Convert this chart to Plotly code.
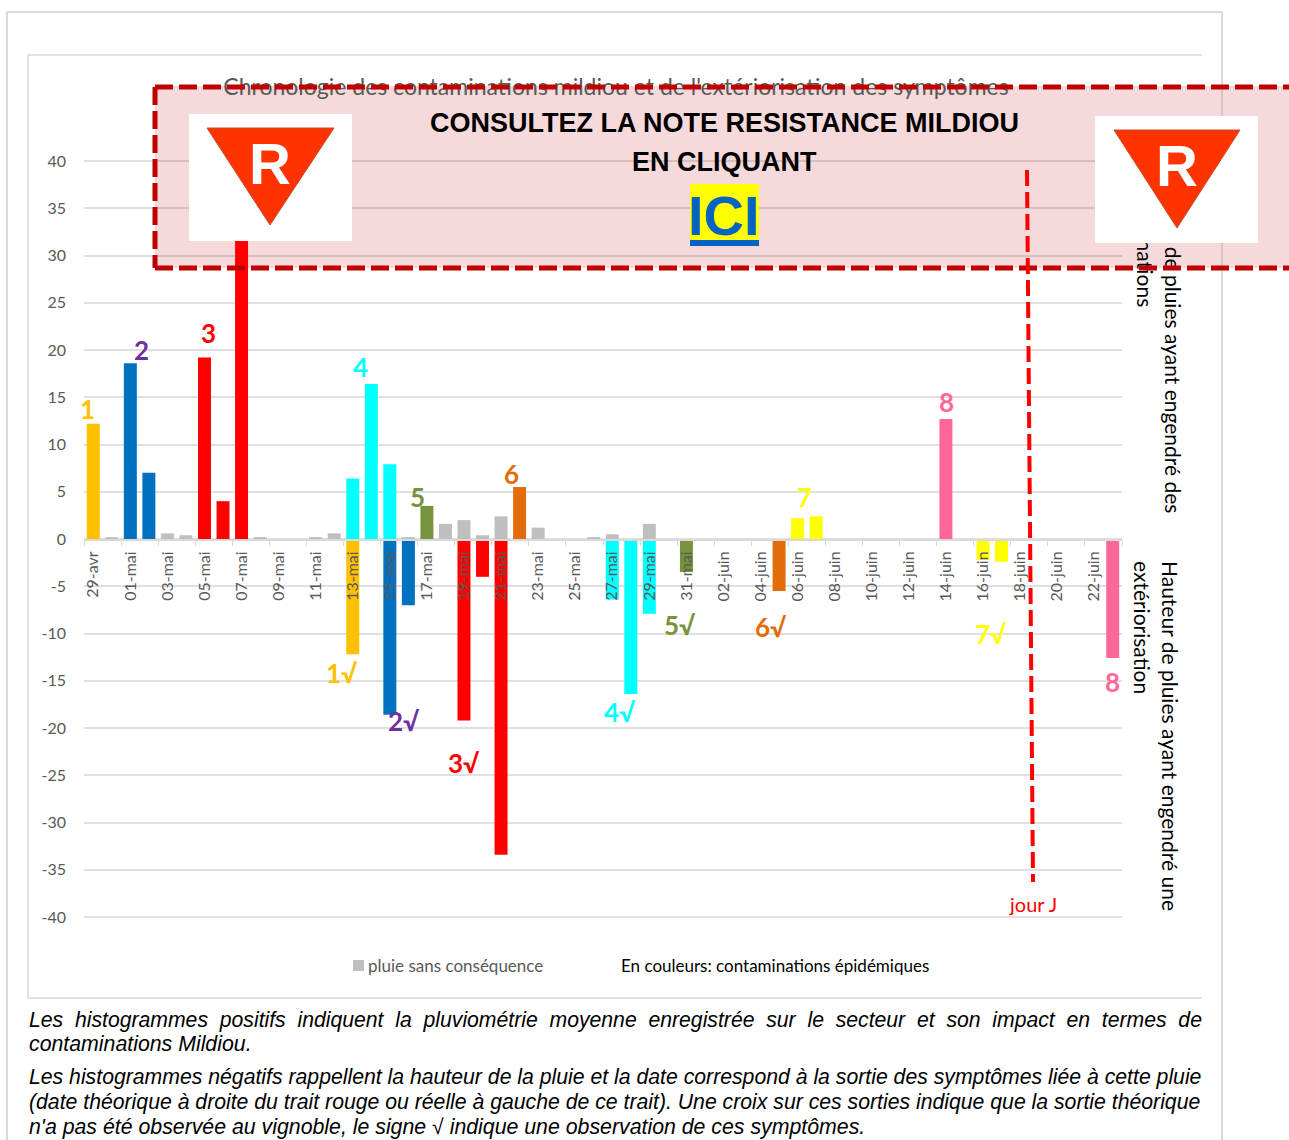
import plotly.graph_objects as go

W, H = 1289, 1140
GREY, GOLD, BLUE, RED, CYAN, GREEN, ORANGE, YELLOW, PINK = (
    "#BFBFBF", "#FFC000", "#0070C0", "#FF0000", "#00FFFF", "#77933C", "#E36C0A", "#FFFF00", "#FF6699")
PURPLE = "#7030A0"
TXT = "#595959"

dates = ["29-avr", "30-avr"] + [f"{d:02d}-mai" for d in range(1, 32)] + [f"{d:02d}-juin" for d in range(1, 24)]

# rain heights (mm) per group, date -> value
grey_dates = ["30-avr", "03-mai", "04-mai", "08-mai", "11-mai", "12-mai", "16-mai", "18-mai", "19-mai",
              "20-mai", "21-mai", "23-mai", "26-mai", "27-mai", "29-mai"]
grey_vals = [0.2, 0.6, 0.4, 0.2, 0.2, 0.6, 0.2, 1.6, 2.0, 0.4, 2.4, 1.2, 0.2, 0.5, 1.6]
gold_dates = ["29-avr", "13-mai"]
gold_vals = [12.2, -12.2]
blue_dates = ["01-mai", "02-mai", "15-mai", "16-mai"]
blue_vals = [18.6, 7.0, -18.6, -7.0]
red_dates = ["05-mai", "06-mai", "07-mai", "19-mai", "20-mai", "21-mai"]
red_vals = [19.2, 4.0, 33.4, -19.2, -4.0, -33.4]
cyan_dates = ["13-mai", "14-mai", "15-mai", "27-mai", "28-mai", "29-mai"]
cyan_vals = [6.4, 16.4, 7.9, -6.4, -16.4, -7.9]
green_dates = ["17-mai", "31-mai"]
green_vals = [3.5, -3.5]
orange_dates = ["22-mai", "05-juin"]
orange_vals = [5.5, -5.5]
yellow_dates = ["06-juin", "07-juin", "16-juin", "17-juin"]
yellow_vals = [2.2, 2.4, -2.2, -2.4]
pink_dates = ["14-juin", "23-juin"]
pink_vals = [12.7, -12.6]

label_texts = ["1", "2", "3", "4", "5", "6", "7", "8", "1√", "2√", "3√", "4√", "5√", "6√", "7√", "8"]
label_colors = [GOLD, PURPLE, RED, CYAN, GREEN, ORANGE, YELLOW, PINK, GOLD, PURPLE, RED, CYAN, GREEN, ORANGE, YELLOW, PINK]

title_text = "Chronologie des contaminations mildiou et de l'extériorisation des symptômes"
legend_text = "pluie sans conséquence"
note_text = "En couleurs: contaminations épidémiques"
banner_lines = ["CONSULTEZ LA NOTE RESISTANCE MILDIOU", "EN CLIQUANT"]
footer_lines = [
    "Les\u00a0\u00a0histogrammes\u00a0\u00a0positifs\u00a0\u00a0indiquent\u00a0\u00a0la\u00a0\u00a0pluviométrie\u00a0\u00a0moyenne\u00a0\u00a0enregistrée\u00a0\u00a0sur\u00a0\u00a0le\u00a0\u00a0secteur\u00a0\u00a0et\u00a0\u00a0son\u00a0\u00a0impact\u00a0\u00a0en\u00a0\u00a0termes\u00a0\u00a0de",
    "contaminations Mildiou.",
    "Les histogrammes négatifs rappellent la hauteur de la pluie et la date correspond à la sortie des symptômes liée à cette pluie",
    "(date théorique à droite du trait rouge ou réelle à gauche de ce trait). Une croix sur ces sorties indique que la sortie théorique",
    "n'a pas été observée au vignoble, le signe √ indique une observation de ces symptômes.",
]
yticks = list(range(-40, 41, 5))
yticktext = [str(v) for v in yticks]


def px(x):
    return x / W


def py(y):
    return 1 - y / H


fig = go.Figure()
for name, xs, ys, col in [
    ("pluie sans conséquence", grey_dates, grey_vals, GREY),
    ("1", gold_dates, gold_vals, GOLD),
    ("2", blue_dates, blue_vals, BLUE),
    ("3", red_dates, red_vals, RED),
    ("4", cyan_dates, cyan_vals, CYAN),
    ("5", green_dates, green_vals, GREEN),
    ("6", orange_dates, orange_vals, ORANGE),
    ("7", yellow_dates, yellow_vals, YELLOW),
    ("8", pink_dates, pink_vals, PINK),
]:
    fig.add_bar(x=xs, y=ys, name=name, marker=dict(color=col, line_width=0), width=0.7, showlegend=False)

# pixel-coordinate overlay: text here stays underneath the banner shapes
fig.add_scatter(x=[616], y=[89], mode="text", text=[title_text], textposition="middle center",
                textfont=dict(family="Lato", size=23, color=TXT), xaxis="x2", yaxis="y2",
                showlegend=False, hoverinfo="skip")
fig.add_scatter(x=[1171], y=[165], mode="none", xaxis="x3", yaxis="y2", showlegend=False, hoverinfo="skip")

fig.update_layout(
    width=W, height=H, autosize=False, margin=dict(l=0, r=0, t=0, b=0, autoexpand=False),
    paper_bgcolor="white", plot_bgcolor="rgba(0,0,0,0)", barmode="overlay", showlegend=False,
    font=dict(family="Lato", color=TXT),
    xaxis=dict(type="category", categoryorder="array", categoryarray=dates, range=[-0.5, 55.5],
               domain=[px(84), px(1122)], anchor="free", position=py(540), tickmode="linear", tick0=0, dtick=2,
               tickson="boundaries", ticks="outside", ticklen=5, tickcolor="#D9D9D9", showline=True,
               linecolor="#D9D9D9", linewidth=2, showgrid=False, zeroline=False, tickangle=-90,
               tickfont=dict(family="Lato", size=16, color=TXT), ticklabelstandoff=4),
    # range runs one unit past the +/-40 grid lines so that plotly keeps them (it drops grid lines on the plot edge)
    yaxis=dict(range=[-41, 41], domain=[py(926.45), py(151.55)], anchor="free", position=px(84), tickmode="array",
               tickvals=yticks, ticktext=yticktext,
               showgrid=True, gridcolor="rgba(0,0,0,0.12)", gridwidth=2, zeroline=False, showline=False,
               ticks="", tickfont=dict(family="Lato", size=16, color=TXT), ticklabelstandoff=18),
    xaxis2=dict(domain=[0, 1], range=[0, W], anchor="free", position=py(165), side="bottom",
                tickvals=[1172, 1144], ticktext=["Hauteur de pluies ayant engendré des", "contaminations"],
                tickangle=90, ticks="", showgrid=False, zeroline=False, showline=False,
                tickfont=dict(family="Lato", size=21, color="#000000")),
    xaxis3=dict(domain=[0, 1], range=[0, W], anchor="free", position=py(560), side="bottom",
                tickvals=[1169, 1141], ticktext=["Hauteur de pluies ayant engendré une", "extériorisation"],
                tickangle=90, ticks="", showgrid=False, zeroline=False, showline=False,
                tickfont=dict(family="Lato", size=21, color="#000000")),
    yaxis2=dict(domain=[0, 1], range=[H, 0], anchor="free", position=0, visible=False),
)

shapes = []


def rect(x0, y0, x1, y1, fill=None, line=None, lw=0, layer="above", dash=None):
    shapes.append(dict(type="rect", xref="paper", yref="paper", x0=px(x0), x1=px(x1), y0=py(y0), y1=py(y1),
                       fillcolor=fill or "rgba(0,0,0,0)", layer=layer,
                       line=dict(color=line or "rgba(0,0,0,0)", width=lw, dash=dash or "solid")))


def seg(x0, y0, x1, y1, col, lw, dash="solid", layer="above"):
    shapes.append(dict(type="line", xref="paper", yref="paper", x0=px(x0), x1=px(x1), y0=py(y0), y1=py(y1),
                       layer=layer, line=dict(color=col, width=lw, dash=dash)))


# frames
FRAME = "#D9D9D9"
seg(7, 12, 1222, 12, FRAME, 2, layer="below")
seg(7, 12, 7, 1140, FRAME, 2, layer="below")
seg(1222, 12, 1222, 1140, FRAME, 2, layer="below")
seg(28, 55, 1202, 55, FRAME, 1.5, layer="below")
seg(28, 55, 28, 998, FRAME, 1.5, layer="below")
seg(28, 998, 1202, 998, FRAME, 1.5, layer="below")

# banner
rect(155, 86, 1300, 268, fill="rgba(230,150,155,0.36)", layer="below")
D = "18px,6px"
seg(155, 87, 1300, 87, "#C00000", 5, dash=D)
seg(155, 87, 155, 268, "#C00000", 5, dash=D)
seg(155, 268, 1300, 268, "#C00000", 5, dash=D)

# R badges
for (x0, y0, x1, y1, a, b, c) in [
    (189, 114, 352, 241, (207, 128), (334, 128), (270, 225)),
    (1095, 116, 1258, 243, (1114, 130), (1240, 130), (1177, 228)),
]:
    rect(x0, y0, x1, y1, fill="#FFFFFF")
    path = f"M{px(a[0])},{py(a[1])} L{px(b[0])},{py(b[1])} L{px(c[0])},{py(c[1])} Z"
    shapes.append(dict(type="path", xref="paper", yref="paper", path=path, fillcolor="#FF3300",
                       line=dict(color="#C0502A", width=1), layer="above"))

# ICI button
rect(690, 184, 759, 240, fill="#FFFF00")
rect(690, 240, 759, 246, fill="#0563C1")

# jour J line
seg(1027, 170, 1033, 882, "#FF0000", 4, dash="16px,6px")

# legend swatch
rect(353, 960, 364, 971, fill=GREY)

fig.update_layout(shapes=shapes)

anns = []


def ann(text, x, y, size, color, family="Lato", bold=False, italic=False, anchor="center"):
    t = text
    if bold:
        t = f"<b>{t}</b>"
    if italic:
        t = f"<i>{t}</i>"
    anns.append(dict(text=t, x=px(x), y=py(y), xref="paper", yref="paper", showarrow=False, xanchor=anchor,
                     yanchor="middle", align=anchor if anchor != "center" else "center",
                     borderpad=0, font=dict(family=family, size=size, color=color)))


label_px = [(87, 409), (141, 350), (208, 333), (360, 367), (417, 497), (511, 474), (804, 497), (946, 402),
            (342, 673), (404, 721), (464, 763), (620, 712), (680, 625), (771, 627), (991, 634), (1112, 682)]
for t, c, (x, y) in zip(label_texts, label_colors, label_px):
    ann(t, x, y, 26, c, bold=True)

ann(banner_lines[0], 724, 123, 27, "#000000", family="Liberation Sans", bold=True)
ann(banner_lines[1], 724, 162, 27, "#000000", family="Liberation Sans", bold=True)
ann("ICI", 724.5, 215, 56, "#0563C1", family="Liberation Sans", bold=True)
ann("R", 270, 163, 58, "#FFFFFF", family="Liberation Sans", bold=True)
ann("R", 1177, 165, 58, "#FFFFFF", family="Liberation Sans", bold=True)
ann("jour J", 1033, 904, 20, "#FF0000")
ann(legend_text, 367, 965, 17, TXT, anchor="left")
ann(note_text, 620, 965, 17, "#000000", anchor="left")
for line, y, size in zip(footer_lines, [1020, 1044, 1077, 1102, 1127], [21.2, 21.3, 21.22, 21.22, 21.3]):
    ann(line, 27.5, y, size, "#000000", family="Liberation Sans", italic=True, anchor="left")
fig.update_layout(annotations=anns)

fig.write_html("out.html", config={"responsive": False, "displayModeBar": False},
               post_script="document.body.style.margin='0';document.body.style.overflow='hidden';")
